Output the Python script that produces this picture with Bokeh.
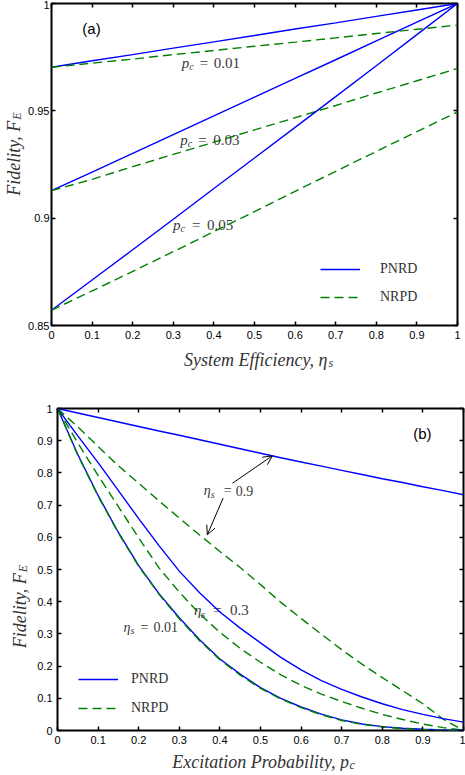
import math
from bokeh.plotting import figure
from bokeh.models import (Range1d, LinearAxis, FixedTicker, CustomJSTickFormatter,
                          Label, Arrow, OpenHead, Legend, LegendItem)
from bokeh.layouts import column, row
from bokeh.embed import file_html
from bokeh.resources import INLINE

# ---------------- panel (a) data ----------------
eta_s = [0.0, 0.1, 0.2, 0.3, 0.4, 0.5, 0.6, 0.7, 0.8, 0.9, 1.0]
a_pnrd_001 = [0.9703, 0.9733, 0.9762, 0.9792, 0.9821, 0.9851, 0.9881, 0.9910, 0.9940, 0.9970, 1.0]
a_nrpd_001 = [0.9703, 0.9722, 0.9741, 0.9762, 0.9781, 0.9801, 0.9820, 0.9840, 0.9860, 0.9880, 0.9899]
a_pnrd_003 = [0.9128, 0.9215, 0.9302, 0.9389, 0.9477, 0.9564, 0.9651, 0.9738, 0.9826, 0.9913, 1.0]
a_nrpd_003 = [0.9128, 0.9181, 0.9240, 0.9297, 0.9354, 0.9411, 0.9468, 0.9525, 0.9583, 0.9640, 0.9697]
a_pnrd_005 = [0.8571, 0.8712, 0.8853, 0.8995, 0.9138, 0.9280, 0.9423, 0.9566, 0.9710, 0.9855, 1.0]
a_nrpd_005 = [0.8571, 0.8661, 0.8752, 0.8844, 0.8937, 0.9031, 0.9125, 0.9218, 0.9311, 0.9403, 0.9495]
a_pc_labels = ["0.01", "0.03", "0.05"]
a_xticks = [0.0, 0.1, 0.2, 0.3, 0.4, 0.5, 0.6, 0.7, 0.8, 0.9, 1.0]
a_yticks = [0.85, 0.9, 0.95, 1.0]

# ---------------- panel (b) data ----------------
p_c = [0.0, 0.05, 0.1, 0.15, 0.2, 0.25, 0.3, 0.35, 0.4, 0.45, 0.5,
       0.55, 0.6, 0.65, 0.7, 0.75, 0.8, 0.85, 0.9, 0.95, 1.0]
b_pnrd_09 = [1.0, 0.986, 0.972, 0.958, 0.944, 0.930, 0.917, 0.903, 0.889, 0.875, 0.861,
             0.847, 0.834, 0.821, 0.808, 0.795, 0.782, 0.770, 0.757, 0.745, 0.732]
b_nrpd_09 = [1.0, 0.943, 0.882, 0.822, 0.768, 0.713, 0.660, 0.607, 0.556, 0.506, 0.453,
             0.398, 0.348, 0.299, 0.251, 0.206, 0.164, 0.124, 0.083, 0.035, 0.0]
b_pnrd_03 = [1.0, 0.915, 0.832, 0.745, 0.658, 0.574, 0.495, 0.428, 0.368, 0.318, 0.272,
             0.227, 0.188, 0.155, 0.128, 0.104, 0.083, 0.065, 0.050, 0.037, 0.026]
b_nrpd_03 = [1.0, 0.893, 0.792, 0.695, 0.598, 0.505, 0.430, 0.362, 0.305, 0.255, 0.212,
             0.173, 0.140, 0.113, 0.090, 0.069, 0.050, 0.034, 0.020, 0.009, 0.001]
b_pnrd_001 = [1.0, 0.857, 0.730, 0.615, 0.512, 0.425, 0.350, 0.282, 0.222, 0.175, 0.133,
              0.100, 0.073, 0.051, 0.033, 0.020, 0.012, 0.007, 0.004, 0.002, 0.001]
b_nrpd_001 = [1.0, 0.855, 0.728, 0.613, 0.510, 0.423, 0.347, 0.279, 0.220, 0.172, 0.131,
              0.098, 0.071, 0.049, 0.031, 0.019, 0.011, 0.006, 0.003, 0.001, 0.0]
b_eta_labels = ["0.9", "0.3", "0.01"]
b_xticks = [0.0, 0.1, 0.2, 0.3, 0.4, 0.5, 0.6, 0.7, 0.8, 0.9, 1.0]
b_yticks = [0.0, 0.1, 0.2, 0.3, 0.4, 0.5, 0.6, 0.7, 0.8, 0.9, 1.0]

# ---------------- styles ----------------
BLUE = "#0000ff"
GREEN = "#008000"
SERIF = "Liberation Serif"
SANS = "Liberation Sans"
TXT = "#3a3a3a"
TITLE = "#333333"
DASH = "9 5"


def base_fig(width, height, y0, y1, left, right, top, bottom, xticks, yticks, standoff):
    p = figure(width=width, height=height, x_range=Range1d(0, 1), y_range=Range1d(y0, y1),
               output_backend="svg", toolbar_location=None, title=None,
               min_border_left=left, min_border_right=right,
               min_border_top=top, min_border_bottom=bottom)
    p.xgrid.grid_line_color = None
    p.ygrid.grid_line_color = None
    p.outline_line_color = "black"
    p.outline_line_width = 2
    p.background_fill_color = "white"
    p.border_fill_color = "white"
    for ax, ticks, so in ((p.xaxis[0], xticks, 5), (p.yaxis[0], yticks, standoff)):
        ax.ticker = FixedTicker(ticks=ticks)
        ax.formatter = CustomJSTickFormatter(code="return String(Math.round(tick*100)/100);")
        ax.major_tick_in = 4
        ax.major_tick_out = 0
        ax.major_tick_line_width = 1.5
        ax.major_tick_line_color = "black"
        ax.minor_tick_line_color = None
        ax.axis_line_color = None
        ax.major_label_text_font = SANS
        ax.major_label_text_font_size = "11px"
        ax.major_label_text_color = "black"
        ax.major_label_standoff = so
    for side, ticks in (("right", yticks), ("above", xticks)):
        ax = LinearAxis(ticker=FixedTicker(ticks=ticks), major_tick_in=4, major_tick_out=0,
                        major_tick_line_width=1.5, major_tick_line_color="black",
                        minor_tick_line_color=None, axis_line_color=None,
                        major_label_text_color=None, major_label_text_font_size="0px",
                        major_label_standoff=0)
        p.add_layout(ax, side)
    return p


def text_fig(width, height):
    t = figure(width=width, height=height, x_range=Range1d(0, width), y_range=Range1d(0, height),
               output_backend="svg", toolbar_location=None, min_border=0, title=None,
               x_axis_type=None, y_axis_type=None)
    t.outline_line_color = None
    t.background_fill_color = "white"
    t.border_fill_color = "white"
    t.xgrid.grid_line_color = None
    t.ygrid.grid_line_color = None
    return t


def lab(p, x, y, text, size, style="normal", font=SERIF, color=TXT, align="left",
        baseline="alphabetic", angle=0.0, xo=0, yo=0, level="annotation"):
    p.add_layout(Label(x=x, y=y, text=text, text_font=font, text_font_size=f"{size}px",
                       text_font_style=style, text_color=color, text_align=align,
                       text_baseline=baseline, angle=angle, x_offset=xo, y_offset=yo,
                       level=level))


def legend(p, r1, r2, loc, spacing, standoff):
    lg = Legend(items=[LegendItem(label="PNRD", renderers=[r1]),
                       LegendItem(label="NRPD", renderers=[r2])],
                location=loc, border_line_color=None, background_fill_alpha=0,
                padding=0, margin=0, spacing=spacing, glyph_width=40, glyph_height=20,
                label_height=20, label_standoff=standoff, label_text_font=SERIF,
                label_text_font_size="14px", label_text_color="#333333")
    p.add_layout(lg)


# ================= panel (a) =================
pa = base_fig(440, 343, 0.85, 1.0, 24, 8, 3, 18, a_xticks, a_yticks, 2)
blue_a = []
green_a = []
for sol, das in ((a_pnrd_001, a_nrpd_001), (a_pnrd_003, a_nrpd_003), (a_pnrd_005, a_nrpd_005)):
    blue_a.append(pa.line(eta_s, sol, line_color=BLUE, line_width=1.4))
    green_a.append(pa.line(eta_s, das, line_color=GREEN, line_width=1.4, line_dash=DASH))

a_lab_pos = [(0.321, 0.9725, 18, 32), (0.317, 0.9363, 18, 33), (0.299, 0.8967, 19, 34)]
for txt, (x, y, eqo, numo) in zip(a_pc_labels, a_lab_pos):
    lab(pa, x, y, "p", 15, "italic", level="underlay")
    lab(pa, x, y, "c", 10, "italic", xo=7.5, yo=-3.5, level="underlay")
    lab(pa, x, y, "=", 15, xo=eqo, level="underlay")
    lab(pa, x, y, txt, 15, xo=numo, level="underlay")

lab(pa, 0.076, 0.9884, "(a)", 15, font=SANS, color="black", baseline="middle")
legend(pa, blue_a[0], green_a[0], (269, 18), 8, 20)

ya = text_fig(25, 343)
lab(ya, 13, 218, "Fidelity, F", 18, "italic", color=TITLE, align="right", angle=math.pi / 2)
lab(ya, 13, 218, "E", 12, "italic", color=TITLE, angle=math.pi / 2, xo=3, yo=1)

xa = text_fig(465, 28)
lab(xa, 327, 12, "System Efficiency, η", 18, "italic", color=TITLE, align="right")
lab(xa, 327, 12, "s", 12, "italic", color=TITLE, xo=1, yo=-3.5)

# ================= panel (b) =================
pb = base_fig(435, 377, 0.0, 1.0, 27, 2, 37, 18, b_xticks, b_yticks, 5)
blue_b = []
green_b = []
for sol, das in ((b_pnrd_09, b_nrpd_09), (b_pnrd_03, b_nrpd_03), (b_pnrd_001, b_nrpd_001)):
    blue_b.append(pb.line(p_c, sol, line_color=BLUE, line_width=1.4))
    green_b.append(pb.line(p_c, das, line_color=GREEN, line_width=1.4, line_dash=DASH))

b_lab_pos = [(0.36, 0.745, 20, 32, 14), (0.336, 0.374, 19, 36, 15), (0.1625, 0.32, 17, 30, 14)]
for txt, (x, y, eqo, numo, sz) in zip(b_eta_labels, b_lab_pos):
    lab(pb, x, y, "η", sz, "italic", level="underlay")
    lab(pb, x, y, "s", sz - 4, "italic", xo=7, yo=-3.5, level="underlay")
    lab(pb, x, y, "=", sz, xo=eqo, level="underlay")
    lab(pb, x, y, txt, sz, xo=numo, level="underlay")

pb.add_layout(Arrow(end=OpenHead(size=9, line_width=1, line_color="black"),
                    x_start=0.431, y_start=0.768, x_end=0.529, y_end=0.853,
                    line_color="black", line_width=1))
pb.add_layout(Arrow(end=OpenHead(size=9, line_width=1, line_color="black"),
                    x_start=0.408, y_start=0.722, x_end=0.369, y_end=0.608,
                    line_color="black", line_width=1))

lab(pb, 0.876, 0.922, "(b)", 15, font=SANS, color="black", baseline="middle")
legend(pb, blue_b[0], green_b[0], (21, 12), 9, 13)

yb = text_fig(30, 377)
lab(yb, 19.5, 184, "Fidelity, F", 18, "italic", color=TITLE, align="right", angle=math.pi / 2)
lab(yb, 19.5, 184, "E", 12, "italic", color=TITLE, angle=math.pi / 2, xo=3, yo=1)

xb = text_fig(465, 23)
lab(xb, 348.5, 10, "Excitation Probability, p", 18, "italic", color=TITLE, align="right")
lab(xb, 348.5, 10, "c", 12, "italic", color=TITLE, xo=0.5, yo=-3.5)

layout = column(row(ya, pa), xa, row(yb, pb), xb)
open("out.html", "w").write(file_html(layout, INLINE))
